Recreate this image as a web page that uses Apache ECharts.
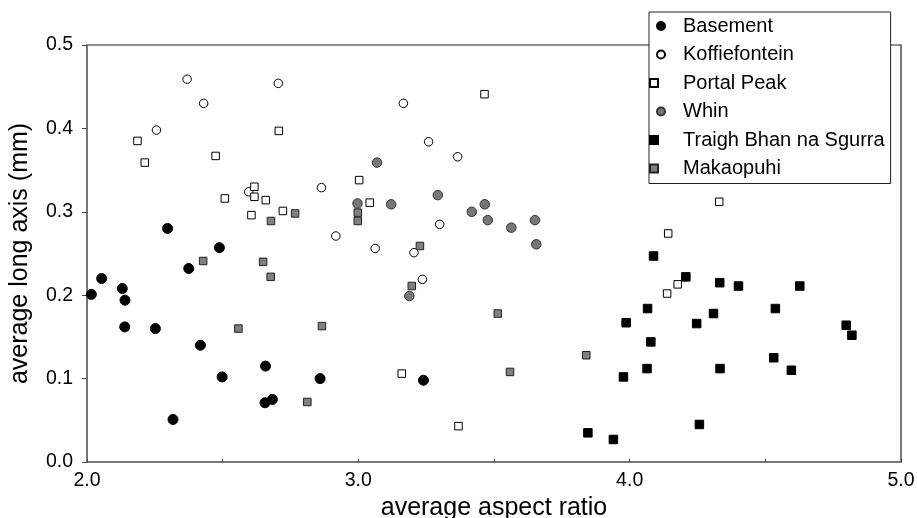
<!DOCTYPE html>
<html>
<head>
    <meta charset="utf-8">
    <script src="https://cdn.jsdelivr.net/npm/echarts@6/dist/echarts.min.js"></script>
</head>
<body style="margin:0">
<div id="main" style="width: 917px;height:518px;"></div>
<script type="text/javascript">
    // [aspect ratio, long axis mm]
    var basement = [[2.016,0.201],[2.054,0.220],[2.13,0.208],[2.14,0.194],[2.139,0.162],[2.252,0.160],[2.297,0.280],
        [2.375,0.232],[2.418,0.140],[2.317,0.051],[2.488,0.257],[2.498,0.102],[2.658,0.115],[2.656,0.071],
        [2.683,0.075],[2.859,0.100],[3.240,0.098]];
    var koffiefontein = [[2.369,0.459],[2.430,0.430],[2.256,0.398],[2.705,0.454],[2.596,0.324],[3.166,0.430],
        [3.259,0.384],[3.366,0.366],[2.864,0.329],[3.300,0.285],[2.917,0.271],[3.062,0.256],[3.205,0.251],[3.236,0.219]];
    var portalPeak = [[2.186,0.385],[2.213,0.359],[2.474,0.367],[2.707,0.397],[2.508,0.316],[2.617,0.330],
        [2.617,0.318],[2.659,0.314],[2.606,0.296],[2.722,0.301],[3.465,0.441],[3.003,0.338],[3.042,0.311],
        [3.160,0.106],[3.369,0.043],[4.330,0.312],[4.142,0.274],[4.177,0.213],[4.138,0.202]];
    var whin = [[3.069,0.359],[3.293,0.320],[2.997,0.310],[3.121,0.309],[3.466,0.309],[3.418,0.300],
        [3.477,0.290],[3.651,0.290],[3.564,0.281],[3.656,0.261],[3.188,0.199]];
    var traigh = [[4.088,0.247],[4.207,0.222],[4.332,0.215],[4.401,0.211],[4.627,0.211],[4.066,0.184],
        [4.537,0.184],[4.309,0.178],[3.987,0.167],[4.247,0.166],[4.798,0.164],[4.819,0.152],[4.078,0.144],
        [4.531,0.125],[4.064,0.112],[4.333,0.112],[4.596,0.110],[3.977,0.102],[4.257,0.045],[3.846,0.035],[3.940,0.027]];
    var makaopuhi = [[2.678,0.289],[2.767,0.298],[2.428,0.241],[2.649,0.240],[2.677,0.222],[2.558,0.160],
        [2.998,0.299],[2.998,0.289],[3.227,0.259],[3.197,0.211],[2.866,0.163],[2.812,0.072],[3.514,0.178],
        [3.559,0.108],[3.840,0.128]];
    var names = ['Basement', 'Koffiefontein', 'Portal Peak', 'Whin', 'Traigh Bhan na Sgurra', 'Makaopuhi'];

    var font = 'Liberation Sans, Arial, sans-serif';

    function series(name, data, symbol, size, fill, border) {
        return {
            name: name,
            type: 'scatter',
            data: data,
            symbol: symbol,
            symbolSize: size,
            itemStyle: { color: fill, borderColor: border, borderWidth: 1, opacity: 1 }
        };
    }

    var myChart = echarts.init(document.getElementById('main'));

    var option = {
        animation: false,
        backgroundColor: '#fff',
        textStyle: { fontFamily: font },
        grid: {
            left: 87, right: 16, top: 45, bottom: 56,
            outerBoundsMode: 'none',
            containLabel: false,
            show: true, borderColor: '#222', borderWidth: 1.2, backgroundColor: '#fff'
        },
        legend: {
            orient: 'vertical',
            left: 649, top: 12,
            padding: [4, 6, 5, 0],
            itemWidth: 22, itemHeight: 8,
            itemGap: 8.5,
            backgroundColor: '#fff',
            borderColor: '#222', borderWidth: 1,
            textStyle: { fontFamily: font, fontSize: 20, lineHeight: 20, color: '#000', padding: [0, 0, 0, 6] },
            data: names
        },
        xAxis: {
            type: 'value',
            min: 2, max: 5, interval: 0.5,
            name: 'average aspect ratio',
            nameLocation: 'middle',
            nameGap: 34,
            nameTextStyle: { fontFamily: font, fontSize: 25, color: '#000' },
            axisLine: { lineStyle: { color: '#777', width: 2 } },
            axisTick: { inside: true, length: 3, lineStyle: { color: '#444' } },
            axisLabel: {
                margin: 9, fontSize: 19.5, color: '#000', fontFamily: font,
                formatter: function (v) { return Math.abs(v - Math.round(v)) < 1e-6 ? v.toFixed(1) : ''; }
            },
            splitLine: { show: false }
        },
        yAxis: {
            type: 'value',
            min: 0, max: 0.5, interval: 0.1,
            name: 'average long axis (mm)',
            nameLocation: 'middle',
            nameGap: 54,
            nameTextStyle: { fontFamily: font, fontSize: 25, color: '#000' },
            axisLine: { show: true, lineStyle: { color: '#777', width: 2 } },
            axisTick: { show: true, inside: false, length: 5, lineStyle: { color: '#444' } },
            axisLabel: {
                margin: 14, fontSize: 19.5, color: '#000', fontFamily: font,
                formatter: function (v) { return v.toFixed(1); }
            },
            splitLine: { show: false }
        },
        series: [
            series(names[0], basement, 'circle', 10, '#000', '#000'),
            series(names[1], koffiefontein, 'circle', 8.5, '#fff', '#000'),
            series(names[2], portalPeak, 'square', 7.5, '#fff', '#000'),
            series(names[3], whin, 'circle', 9.5, '#777', '#333'),
            series(names[4], traigh, 'square', 8.5, '#000', '#000'),
            series(names[5], makaopuhi, 'square', 7.5, '#808080', '#222')
        ]
    };

    myChart.setOption(option);
</script>
</body>
</html>
